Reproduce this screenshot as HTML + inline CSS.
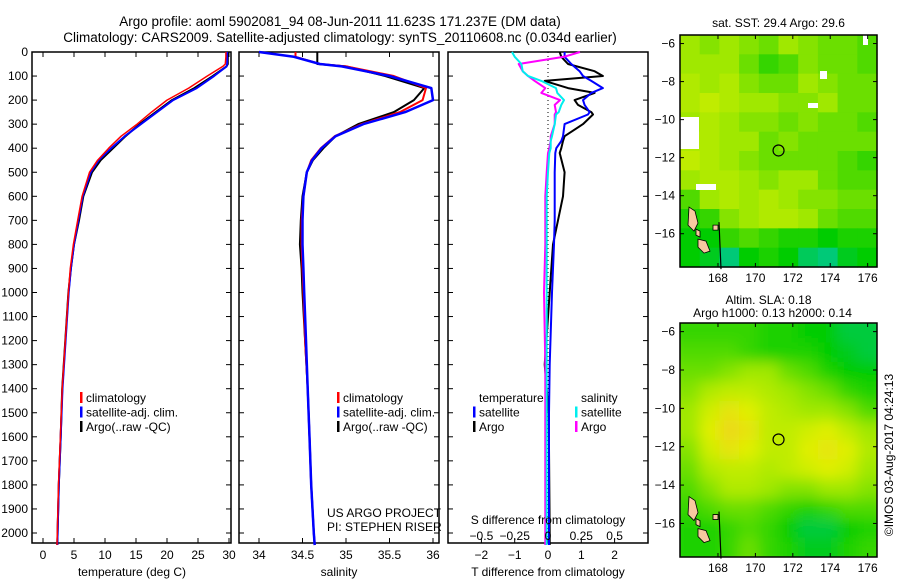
<!DOCTYPE html>
<html><head><meta charset="utf-8"><style>
body{margin:0;background:#fff}
svg{display:block;font-family:"Liberation Sans",sans-serif}
text{font-size:12px;fill:#000}
</style></head><body>
<svg id="fig" width="900" height="580" viewBox="0 0 900 580">
<defs><filter id="blur" x="0" y="0" width="1" height="1"><feGaussianBlur stdDeviation="7"/></filter>
<clipPath id="clipB"><rect x="680" y="323" width="197" height="234"/></clipPath></defs>
<g id="g"></g>
</svg>
<script>
// ---------- data ----------
const depthTicks=[0,100,200,300,400,500,600,700,800,900,1000,1100,1200,1300,1400,1500,1600,1700,1800,1900,2000];
const tTicks=[0,5,10,15,20,25,30];
const sTicks=[34,34.5,35,35.5,36];
const dTTicks=[-2,-1,0,1,2];
const dSTicks=[-0.5,-0.25,0,0.25,0.5];
const dSTickLabels=['\u22120.5','\u22120.25','0','0.25','0.5'];
const depths=[0,20,50,60,100,150,200,250,300,350,400,450,500,600,700,800,900,1000,1200,1400,1600,1800,2000,2050];
const tClim=[29.5,29.5,29.4,29,26.5,23.5,20,17.5,15.2,12.6,10.6,8.8,7.5,6.3,5.6,4.9,4.4,4.1,3.6,3.1,2.8,2.5,2.3,2.25];
const tSat=[29.7,29.7,29.7,29.6,27.6,24.8,21,18.4,15.8,13.2,11.0,9.0,7.7,6.4,5.7,5.0,4.5,4.15,3.65,3.15,2.85,2.55,2.35,2.3];
const tArgo=[29.8,29.8,29.8,29.6,27.4,24.4,20.8,18.2,15.6,13.3,11.3,9.3,7.9,6.5,5.8,5.0,4.5,4.1,3.6,3.1,2.85,2.55,2.35,2.3];
const sClim=[34.42,34.42,34.7,35.0,35.55,35.92,35.88,35.62,35.18,34.87,34.71,34.6,34.55,34.51,34.49,34.49,34.5,34.51,34.53,34.56,34.58,34.6,34.63,34.64];
const sSat=[34.0,34.4,34.7,34.95,35.5,35.98,36.0,35.68,35.2,34.88,34.72,34.61,34.55,34.51,34.5,34.5,34.51,34.52,34.54,34.56,34.58,34.6,34.63,34.64];
const sArgo=[34.67,34.67,34.67,35.0,35.45,35.9,35.78,35.55,35.14,34.88,34.74,34.62,34.55,34.5,34.48,34.47,34.49,34.5,34.53,34.56,34.58,34.6,34.63,34.64];
const dDepths=[0,20,50,80,100,120,150,170,200,220,250,260,300,350,370,400,420,500,600,700,800,1000,1300,1500,2000,2050];
const dTSat=[0.5,0.5,0.7,0.95,1.05,1.3,1.65,1.3,1.05,1.1,1.25,1.2,0.5,0.45,0.4,0.25,0.22,0.2,0.2,0.2,0.18,0.12,0.05,0.03,0.03,0.03];
const dTArgo=[0.35,0.4,0.6,1.4,1.65,-0.1,0.6,1.4,0.8,0.9,1.3,1.35,1.05,0.5,0.45,0.4,0.35,0.5,0.45,0.3,0.15,0.05,-0.1,0.02,0.05,0.05];
const dSSat=[-0.27,-0.25,-0.2,-0.19,-0.15,-0.05,0.06,0.07,0.12,0.1,0.08,0.06,0.05,0.03,0.02,0.02,0.01,0.0,-0.01,-0.01,-0.01,-0.01,-0.01,-0.01,-0.01,-0.01];
const dSArgo=[0.24,0.12,-0.22,-0.19,-0.15,-0.1,-0.02,-0.05,0.09,0.05,0.06,0.05,0.05,0.02,0.02,0.01,0.0,-0.01,-0.02,-0.02,-0.02,-0.03,-0.02,-0.02,-0.02,-0.02];
const lonTicks=[168,170,172,174,176];
const latTicks=[-6,-8,-10,-12,-14,-16];
const sstGrid=[
[.6,.55,.6,.55,.5,.6,.55,.5,.5,.45],
[.6,.6,.6,.5,.4,.45,.55,.5,.5,.45],
[.65,.6,.65,.55,.5,.5,.6,.55,.5,.5],
[.65,.7,.65,.6,.6,.55,.55,.6,.5,.5],
[.6,.65,.6,.55,.55,.5,.55,.5,.5,.45],
[.65,.65,.6,.6,.5,.55,.5,.5,.5,.5],
[.7,.65,.6,.55,.5,.5,.5,.5,.45,.4],
[.6,.65,.65,.6,.55,.6,.6,.5,.45,.45],
[.45,.6,.65,.6,.65,.6,.55,.55,.5,.5],
[.35,.4,.55,.6,.65,.65,.6,.5,.45,.45],
[.3,.3,.4,.45,.4,.35,.35,.3,.35,.35],
[.3,.25,.1,.3,.35,.3,.15,.1,.25,.3]];
const slaGrid=[
[.4,.4,.4,.4,.35,.35,.3,.3,.2,.2],
[.45,.45,.45,.4,.35,.35,.35,.3,.25,.2],
[.5,.5,.55,.6,.6,.5,.45,.35,.3,.3],
[.55,.65,.7,.7,.65,.6,.55,.5,.4,.35],
[.6,.75,.85,.8,.7,.65,.6,.6,.55,.45],
[.6,.8,.9,.85,.7,.7,.75,.8,.7,.6],
[.55,.75,.85,.8,.7,.7,.8,.85,.8,.65],
[.5,.65,.7,.7,.65,.7,.75,.8,.75,.6],
[.45,.55,.65,.65,.6,.55,.55,.6,.6,.55],
[.4,.45,.5,.5,.45,.4,.35,.4,.45,.45],
[.35,.35,.4,.45,.4,.3,.2,.2,.3,.35],
[.35,.35,.4,.5,.4,.35,.25,.25,.35,.4]];
const argoLon=171.237, argoLat=-11.623;

// ---------- helpers ----------
const NS='http://www.w3.org/2000/svg';
const G=document.getElementById('g');
function el(t,a,p){const e=document.createElementNS(NS,t);for(const k in a)e.setAttribute(k,a[k]);(p||G).appendChild(e);return e;}
function txt(x,y,s,anchor,p,size){const e=el('text',{x:x,y:y,'text-anchor':anchor||'start'},p);if(size)e.style.fontSize=size+'px';e.textContent=s;return e;}
const TOP=52,BOT=543;
const yD=d=>TOP+d*0.2405;
const xT=v=>43+(v)*6.2;
const xS=v=>259+(v-34)*87;
const xDT=v=>548+v*33.3;
const xDS=v=>548+v*133.2;
function panel(x0,x1,name){
  const r=el('rect',{x:x0,y:TOP,width:x1-x0,height:BOT-TOP,fill:'#fff',stroke:'#000','stroke-width':1.5});
  
  depthTicks.forEach(d=>{el('line',{x1:x0,x2:x0+5,y1:yD(d),y2:yD(d),stroke:'#000'});el('line',{x1:x1-5,x2:x1,y1:yD(d),y2:yD(d),stroke:'#000'});});
}
function line(xs,ds,fx,color,w,name){
  const pts=xs.map((v,i)=>fx(v).toFixed(1)+','+yD(ds[i]).toFixed(1)).join(' ');
  const p=el('polyline',{points:pts,fill:'none',stroke:color,'stroke-width':w,'stroke-linejoin':'round'});
  
}
function legend(x,y,items,name){
  const g=el('g',{});
  items.forEach((it,i)=>{
    if(it[1])el('rect',{x:x,y:y+i*14.5-10,width:2.5,height:11,fill:it[1]},g);
    txt(x+6,y+i*14.5,it[0],'start',g);
  });
}

// titles
const t1=txt(340,26,'Argo profile: aoml 5902081_94 08-Jun-2011 11.623S 171.237E (DM data)','middle',null,13.5);

const t2=txt(340,42,'Climatology: CARS2009. Satellite-adjusted climatology: synTS_20110608.nc (0.034d earlier)','middle',null,13.5);


depthTicks.forEach(d=>{const e=txt(28,yD(d)+4,String(d),'end');});

// panel 1 temperature
panel(32,231,'temperature-panel');
tTicks.forEach(v=>{el('line',{x1:xT(v),x2:xT(v),y1:BOT,y2:BOT-5,stroke:'#000'});el('line',{x1:xT(v),x2:xT(v),y1:TOP,y2:TOP+5,stroke:'#000'});txt(xT(v),559,String(v),'middle');});
txt(132,576,'temperature (deg C)','middle');
line(tArgo,depths,xT,'#000',2,'temp-argo-line');
line(tSat,depths,xT,'#00f',2,'temp-satellite-line');
line(tClim,depths,xT,'#f00',1.5,'temp-climatology-line');
legend(80,402,[['climatology','#f00'],['satellite-adj. clim.','#00f'],['Argo(..raw -QC)','#000']],'temperature-legend');

// panel 2 salinity
panel(239,439,'salinity-panel');
sTicks.forEach(v=>{el('line',{x1:xS(v),x2:xS(v),y1:BOT,y2:BOT-5,stroke:'#000'});el('line',{x1:xS(v),x2:xS(v),y1:TOP,y2:TOP+5,stroke:'#000'});txt(xS(v),559,String(v),'middle');});
txt(339,576,'salinity','middle');
line(sArgo,depths,xS,'#000',2,'sal-argo-line');
line(sClim,depths,xS,'#f00',2,'sal-climatology-line');
line(sSat,depths,xS,'#00f',2.5,'sal-satellite-line');
legend(337,402,[['climatology','#f00'],['satellite-adj. clim.','#00f'],['Argo(..raw -QC)','#000']],'salinity-legend');
txt(327,517,'US ARGO PROJECT');
txt(327,531,'PI: STEPHEN RISER');

// panel 3 differences
panel(448,648,'difference-panel');
el('line',{x1:548,x2:548,y1:TOP,y2:BOT,stroke:'#000','stroke-dasharray':'1,3'});
dTTicks.forEach(v=>{el('line',{x1:xDT(v),x2:xDT(v),y1:BOT,y2:BOT-5,stroke:'#000'});txt(xDT(v),559,v<0?'\u2212'+(-v):String(v),'middle');});
line(dTArgo,dDepths,xDT,'#000',2,'dT-argo-line');
line(dTSat,dDepths,xDT,'#00f',2,'dT-satellite-line');
line(dSArgo,dDepths,xDS,'#f0f',2,'dS-argo-line');
line(dSSat,dDepths,xDS,'#0ee',2,'dS-satellite-line');
dSTicks.forEach((v,i)=>{txt(xDS(v),540,dSTickLabels[i],'middle');});
txt(548,524,'S difference from climatology','middle');
txt(548,576,'T difference from climatology','middle');
legend(473,402,[['temperature',null],['satellite','#00f'],['Argo','#000']],'dT-legend');
legend(575,402,[['salinity',null],['satellite','#0ee'],['Argo','#f0f']],'dS-legend');

// ---------- maps ----------
const cmapStops=[[0,[0,200,180]],[0.3,[0,204,0]],[0.6,[160,232,0]],[0.8,[224,240,0]],[1,[248,192,48]]];
function cmap(v){for(let i=1;i<cmapStops.length;i++){const a=cmapStops[i-1],b=cmapStops[i];if(v<=b[0]){const t=(v-a[0])/(b[0]-a[0]);return 'rgb('+a[1].map((c,k)=>Math.round(c+(b[1][k]-c)*t)).join(',')+')';}}return 'rgb(248,192,48)';}
const LON0=165.97,LON1=176.5,LAT0=-5.55,LAT1=-17.75;
function map(x0,x1,y0,y1,grid,name,title1,title2,whites,smooth){
  const fx=lon=>x0+(lon-LON0)/(LON1-LON0)*(x1-x0);
  const fy=lat=>y0+(lat-LAT0)/(LAT1-LAT0)*(y1-y0);
  const g=el('g',{});
  const cg=el('g',smooth?{'clip-path':'url(#clipB)'}:{},g);
  const ig=el('g',smooth?{filter:'url(#blur)'}:{},cg);
  const nr=grid.length,nc=grid[0].length,cw=(x1-x0)/nc,ch=(y1-y0)/nr;
  const pad=smooth?12:0;
  grid.forEach((row,r)=>row.forEach((v,c)=>{
    const xx=x0+c*cw-(c==0?pad:0), yy=y0+r*ch-(r==0?pad:0);
    const e=el('rect',{x:xx,y:yy,width:cw+0.6+(c==0||c==nc-1?pad:0),height:ch+0.6+(r==0||r==nr-1?pad:0),fill:cmap(v)},ig);
    
  }));
  (whites||[]).forEach(w=>el('rect',{x:w[0],y:w[1],width:w[2],height:w[3],fill:'#fff'},g));
  const iy=y0+(-14.6-LAT0)/(LAT1-LAT0)*(y1-y0);
  [[x0+9,iy,'M0,0 l6,4 l3,12 l-4,8 l-6,-6 z'],[x0+18,iy+32,'M0,0 l8,2 l4,10 l-6,2 l-6,-6 z'],[x0+33,iy+18,'M0,0 l5,0 l0,5 l-5,0z'],[x0+16,iy+22,'M0,0 l4,2 l0,6 l-4,-2z']].forEach(p=>{
    const isl=el('path',{d:p[2],transform:'translate('+p[0]+','+p[1]+')',fill:'#f8c8a0',stroke:'#000','stroke-width':0.8},g);
    
  });
  el('line',{x1:x0+39,x2:x0+41,y1:iy+15,y2:iy+62,stroke:'#000','stroke-width':1.2},g);
  el('rect',{x:x0,y:y0,width:x1-x0,height:y1-y0,fill:'none',stroke:'#000','stroke-width':1.5},g);
  lonTicks.forEach(l=>{el('line',{x1:fx(l),x2:fx(l),y1:y1,y2:y1-4,stroke:'#000'},g);el('line',{x1:fx(l),x2:fx(l),y1:y0,y2:y0+4,stroke:'#000'},g);txt(fx(l),y1+15,String(l),'middle',g);});
  latTicks.forEach(l=>{el('line',{x1:x0,x2:x0+4,y1:fy(l),y2:fy(l),stroke:'#000'},g);el('line',{x1:x1,x2:x1-4,y1:fy(l),y2:fy(l),stroke:'#000'},g);txt(x0-5,fy(l)+4,'\u2212'+(-l),'end',g);});
  const m=el('circle',{cx:fx(argoLon),cy:fy(argoLat),r:5.5,fill:'none',stroke:'#000','stroke-width':1.2},g);
  
  if(title1)txt((x0+x1)/2+(title2?-10:0),title2?y0-19:y0-8,title1,'middle',g);
  if(title2)txt((x0+x1)/2-6,y0-6,title2,'middle',g);
}
map(680,877,35,267,sstGrid,'sst-map','sat. SST: 29.4  Argo: 29.6',null,[[680,117,19,32],[820,71,7,8],[808,103,10,5],[863,35,5,10],[696,184,20,6]],false);
map(680,877,323,557,slaGrid,'sla-map','Altim. SLA: 0.18','Argo h1000: 0.13 h2000: 0.14',[],true);
const cp=txt(0,0,'\u00a9IMOS 03-Aug-2017 04:24:13','middle');
cp.setAttribute('transform','translate(893,455) rotate(-90)');

</script>
</body></html>
